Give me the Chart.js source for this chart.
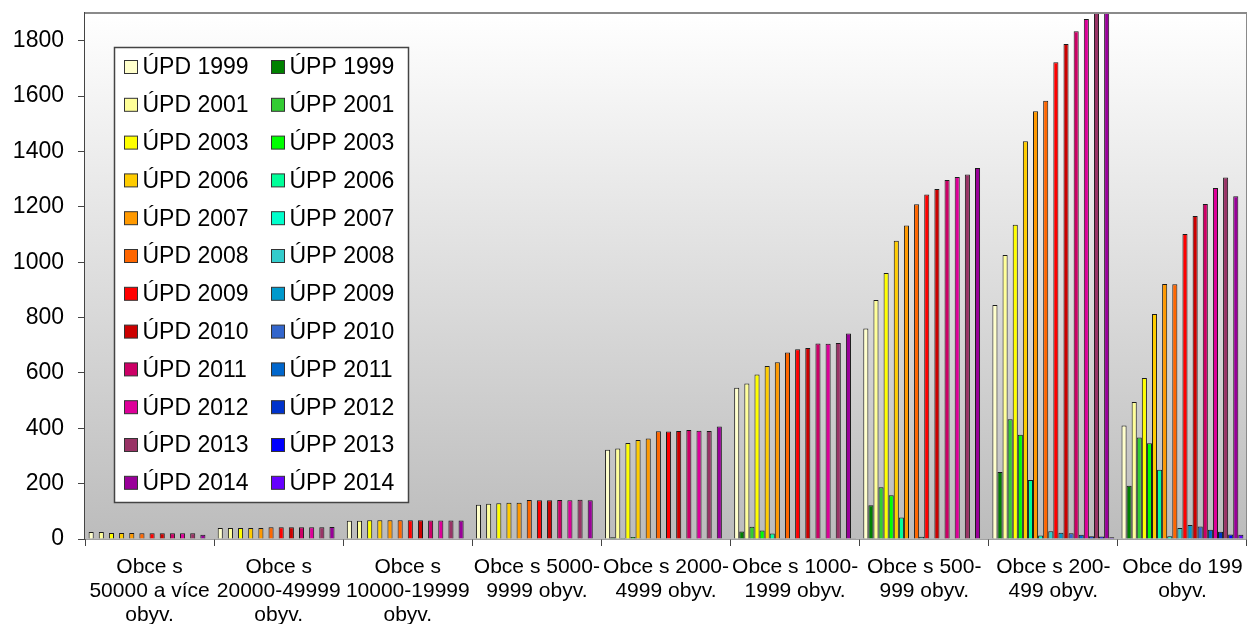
<!DOCTYPE html>
<html>
<head>
<meta charset="utf-8">
<script src="https://cdn.jsdelivr.net/npm/chart.js@4.4.0/dist/chart.umd.min.js"></script>
<style>
  html, body { margin: 0; padding: 0; background: #fff; }
  #obal { width: 1247px; height: 624px; }
</style>
</head>
<body>
<div id="obal"><canvas id="graf" width="1247" height="624"></canvas></div>
<script>
// kategorie obcí podle velikosti
const kategorie = [
  ['Obce s', '50000 a více', 'obyv.'],
  ['Obce s', '20000-49999', 'obyv.'],
  ['Obce s', '10000-19999', 'obyv.'],
  ['Obce s 5000-', '9999 obyv.'],
  ['Obce s 2000-', '4999 obyv.'],
  ['Obce s 1000-', '1999 obyv.'],
  ['Obce s 500-', '999 obyv.'],
  ['Obce s 200-', '499 obyv.'],
  ['Obce do 199', 'obyv.']
];

const roky = ['1999', '2001', '2003', '2006', '2007', '2008', '2009', '2010', '2011', '2012', '2013', '2014'];

// ÚPD - územně plánovací dokumentace
const upd1999 = [25, 40, 66, 124, 322, 546, 760, 845, 410];
const upd2001 = [25, 40, 66, 127, 327, 562, 863, 1026, 495];
const upd2003 = [22, 40, 68, 129, 347, 594, 961, 1135, 582];
const upd2006 = [22, 40, 68, 131, 358, 625, 1077, 1437, 813];
const upd2007 = [22, 40, 68, 131, 363, 638, 1132, 1545, 921];
const upd2008 = [21, 42, 68, 141, 389, 674, 1209, 1583, 920];
const upd2009 = [21, 42, 68, 140, 388, 685, 1244, 1722, 1102];
const upd2010 = [21, 42, 68, 140, 390, 690, 1264, 1788, 1167];
const upd2011 = [21, 42, 67, 141, 394, 706, 1297, 1834, 1210];
const upd2012 = [21, 42, 67, 140, 391, 705, 1308, 1878, 1268];
const upd2013 = [21, 42, 67, 142, 390, 708, 1317, 1925, 1306];
const upd2014 = [15, 43, 67, 140, 406, 742, 1340, 1950, 1238];

// ÚPP - územně plánovací podklady
const upp1999 = [0, 0, 0, 0, 6, 27, 122, 242, 192];
const upp2001 = [0, 0, 0, 1, 4, 44, 187, 433, 367];
const upp2003 = [0, 0, 0, 0, 7, 31, 158, 377, 346];
const upp2006 = [0, 0, 0, 0, 3, 20, 78, 213, 250];
const upp2007 = [0, 0, 0, 0, 1, 1, 2, 13, 10];
const upp2008 = [0, 0, 0, 0, 1, 2, 8, 28, 40];
const upp2009 = [0, 0, 0, 0, 0, 1, 3, 23, 51];
const upp2010 = [0, 0, 0, 0, 0, 1, 2, 21, 45];
const upp2011 = [0, 0, 0, 0, 0, 1, 2, 15, 33];
const upp2012 = [0, 0, 0, 0, 0, 1, 2, 10, 26];
const upp2013 = [0, 0, 0, 0, 0, 1, 2, 9, 16];
const upp2014 = [0, 0, 0, 0, 0, 1, 2, 6, 15];

const hodnotyUPD = [upd1999, upd2001, upd2003, upd2006, upd2007, upd2008, upd2009, upd2010, upd2011, upd2012, upd2013, upd2014];
const hodnotyUPP = [upp1999, upp2001, upp2003, upp2006, upp2007, upp2008, upp2009, upp2010, upp2011, upp2012, upp2013, upp2014];

const barvyUPD = ['#ffffcc', '#ffff99', '#ffff00', '#ffcc00', '#ff9900', '#ff6600', '#ff0000', '#cc0000', '#cc0066', '#dd0099', '#993366', '#990099'];
const barvyUPP = ['#008000', '#33cc33', '#00ff00', '#00ff99', '#00ffcc', '#33cccc', '#0099cc', '#3366cc', '#0066cc', '#0033cc', '#0000ff', '#6600ff'];

const pismo = '"Liberation Sans", Arial, sans-serif';

// ÚPD a ÚPP se střídají (stejně jako v legendě po řádcích)
const datasety = [];
roky.forEach((rok, i) => {
  datasety.push({ label: 'ÚPD ' + rok, data: hodnotyUPD[i], backgroundColor: barvyUPD[i] });
  datasety.push({ label: 'ÚPP ' + rok, data: hodnotyUPP[i], backgroundColor: barvyUPP[i] });
});
datasety.forEach(d => {
  d.borderColor = '#1a1a1a';
  d.borderWidth = 1;
  d.categoryPercentage = 0.944;
  d.barPercentage = 1;
  d.clip = 0;
});

// pozadí grafu s přechodem
const pozadi = {
  id: 'pozadi',
  beforeDatasetsDraw(chart) {
    const { ctx, chartArea: a } = chart;
    const g = ctx.createLinearGradient(0, a.top, 0, a.bottom);
    g.addColorStop(0, '#ffffff');
    g.addColorStop(1, '#bcbcbc');
    ctx.save();
    ctx.fillStyle = g;
    ctx.fillRect(a.left, a.top, a.right - a.left, a.bottom - a.top);
    ctx.restore();
  },
  afterDatasetsDraw(chart) {
    const { ctx, chartArea: a } = chart;
    ctx.save();
    ctx.strokeStyle = '#8a8a8a';
    ctx.lineWidth = 2;
    ctx.beginPath();
    ctx.moveTo(a.left, a.top);
    ctx.lineTo(a.right, a.top);
    ctx.lineTo(a.right, a.bottom);
    ctx.stroke();
    ctx.restore();
  }
};

// legenda uvnitř grafu, dva sloupce
const legenda = {
  id: 'legenda',
  afterDraw(chart) {
    const ctx = chart.ctx;
    ctx.save();
    ctx.fillStyle = '#fff';
    ctx.fillRect(114.5, 47.5, 294, 455);
    ctx.strokeStyle = '#444';
    ctx.lineWidth = 1.5;
    ctx.strokeRect(114.5, 47.5, 294, 455);
    ctx.font = '23px ' + pismo;
    ctx.textBaseline = 'middle';
    chart.data.datasets.forEach((ds, i) => {
      const radek = Math.floor(i / 2);
      const x = i % 2 ? 271.5 : 124.5;
      const y = 67 + radek * 37.8;
      ctx.fillStyle = ds.backgroundColor;
      ctx.fillRect(x, y - 6.5, 13, 13);
      ctx.strokeStyle = '#333';
      ctx.lineWidth = 1;
      ctx.strokeRect(x, y - 6.5, 13, 13);
      ctx.fillStyle = '#000';
      ctx.fillText(ds.label, x + 18, y + 1);
    });
    ctx.restore();
  }
};

new Chart(document.getElementById('graf'), {
  type: 'bar',
  data: { labels: kategorie, datasets: datasety },
  plugins: [pozadi, legenda],
  options: {
    responsive: false,
    animation: false,
    layout: { padding: { top: 13, right: 0, left: 0, bottom: 0 } },
    plugins: { legend: { display: false }, tooltip: { enabled: false } },
    scales: {
      x: {
        ticks: { color: '#000', font: { size: 21, family: pismo, lineHeight: 1.143 }, padding: 9, maxRotation: 0, autoSkip: false },
        grid: { drawOnChartArea: false, tickLength: 7, color: '#444', offset: true },
        border: { color: '#444', width: 1.5 },
        afterFit(s) { s.height = 85; s.paddingLeft = 0; s.paddingRight = 0; }
      },
      y: {
        min: 0,
        max: 1900,
        ticks: { stepSize: 200, color: '#000', font: { size: 23, family: pismo }, padding: 14, callback: v => String(v) },
        afterBuildTicks(s) { s.ticks = s.ticks.filter(t => t.value <= 1800); },
        grid: { drawOnChartArea: false, tickLength: 7, color: '#444' },
        border: { color: '#444', width: 1.5 },
        afterFit(s) { s.width = 85; s.paddingTop = 0; s.paddingBottom = 0; }
      }
    }
  }
});
</script>
</body>
</html>
